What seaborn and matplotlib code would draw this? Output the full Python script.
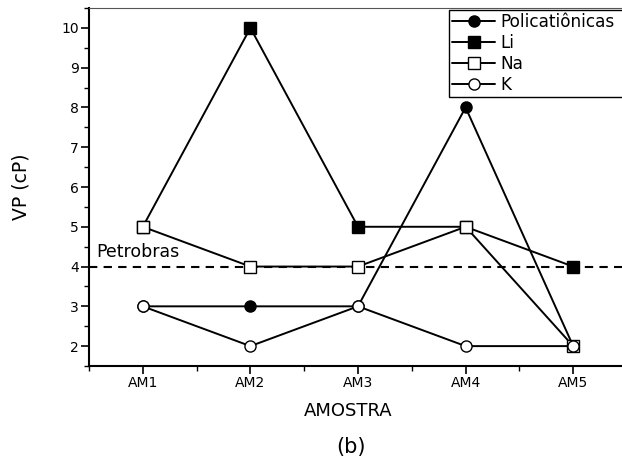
import numpy as np
import pandas as pd
import matplotlib
matplotlib.use("Agg")
import matplotlib.pyplot as plt
from matplotlib.ticker import MultipleLocator
import seaborn as sns

# Samples and plastic viscosity (cP) for each polymer series
amostras = ["AM1", "AM2", "AM3", "AM4", "AM5"]
policationicas = [3, 3, 3, 8, 2]
li = [5, 10, 5, 5, 4]
na = [5, 4, 4, 5, 2]
k = [3, 2, 3, 2, 2]
petrobras_ref = 4

sns.set_style("ticks")
plt.rcParams["font.family"] = ["DejaVu Sans"]
plt.rcParams["text.color"] = "black"
plt.rcParams["axes.labelcolor"] = "black"
plt.rcParams["xtick.color"] = "black"
plt.rcParams["ytick.color"] = "black"

fig = plt.figure(figsize=(6.22, 4.72), dpi=100)
ax = fig.add_axes([89 / 622, 1 - 366 / 472, 538 / 622, 358 / 472])

pos = np.arange(1, len(amostras) + 1)
series = [
    ("Policatiônicas", policationicas, "o", "black"),
    ("Li", li, "s", "black"),
    ("Na", na, "s", "white"),
    ("K", k, "o", "white"),
]
for name, vals, mk, fc in series:
    df = pd.DataFrame({"pos": pos, "vp": vals})
    sns.lineplot(data=df, x="pos", y="vp", ax=ax, color="black", lw=1.4,
                 marker=mk, markersize=8, markerfacecolor=fc,
                 markeredgecolor="black", markeredgewidth=1.0, label=name)

ax.axhline(petrobras_ref, color="black", lw=1.5, ls=(0, (4, 3)), zorder=1)
ax.text(0.565, petrobras_ref + 0.24, "Petrobras", fontsize=12.5,
        va="baseline", color="black")

ax.set_xlim(0.5, 5.5)
ax.set_ylim(1.5, 10.5)
ax.set_xticks(pos)
ax.set_xticklabels(amostras)
ax.set_yticks(range(2, 11))
ax.xaxis.set_minor_locator(MultipleLocator(0.5))
ax.yaxis.set_minor_locator(MultipleLocator(0.5))
ax.tick_params(which="major", length=6, width=1.2, labelsize=10, pad=1.5,
               color="black", labelcolor="black")
ax.tick_params(which="minor", length=3.5, width=1.0, color="black")
ax.set_xlabel("")
ax.set_ylabel("")

for side in ["left", "bottom"]:
    ax.spines[side].set_color("black")
    ax.spines[side].set_linewidth(1.5)
ax.spines["top"].set_visible(True)
ax.spines["top"].set_color("#555555")
ax.spines["top"].set_linewidth(0.8)
ax.spines["right"].set_visible(False)

# Legend box runs past the right edge of the figure
leg = ax.legend(loc="upper left",
                bbox_to_anchor=(449 / 622, 1 - 10 / 472, 190 / 622, 0),
                bbox_transform=fig.transFigure, mode="expand",
                borderaxespad=0, frameon=True,
                fancybox=False, fontsize=12.2, handlelength=2.5,
                handletextpad=0.35, labelspacing=0.17, borderpad=0.2)
leg.get_frame().set_edgecolor("black")
leg.get_frame().set_linewidth(1.0)
leg.get_frame().set_alpha(1)
for t in leg.get_texts():
    t.set_color("black")

fig.text(21 / 622, 1 - 187 / 472, "VP (cP)", rotation=90, fontsize=13.5,
         ha="center", va="center", color="black")
fig.text(348 / 622, 1 - 411 / 472, "AMOSTRA", fontsize=13,
         ha="center", va="center", color="black")
fig.text(351 / 622, 1 - 447 / 472, "(b)", fontsize=15,
         ha="center", va="center", color="black")

fig.savefig("out.png", dpi=100)
